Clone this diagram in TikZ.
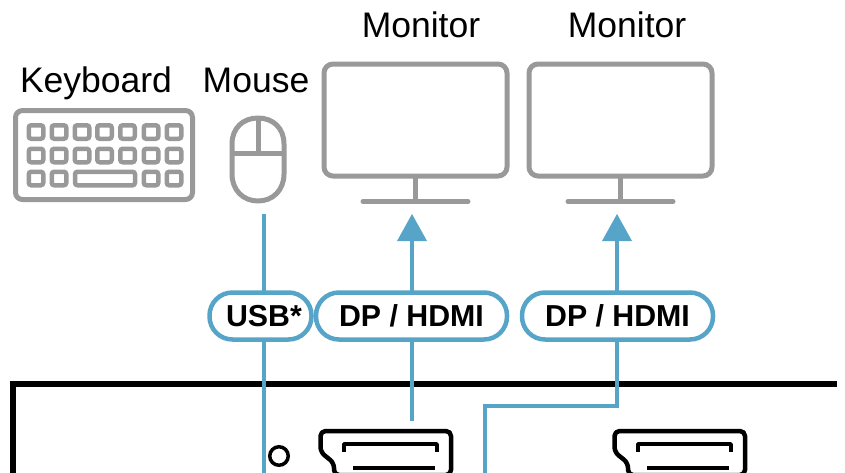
\documentclass[tikz,border=0pt]{standalone}
\usepackage{fontspec}
\setmainfont{Liberation Sans}
\definecolor{cablec}{HTML}{56A5C8}
\definecolor{devc}{HTML}{999999}
\tikzset{
  x=1pt,y=-1pt,
  device/.style={draw=devc,line width=5pt,line join=round,line cap=round},
  keycap/.style={draw=devc,line width=4.5pt,rounded corners=2.5pt,inner sep=0pt,minimum height=13.5pt},
  monitorbox/.style={device,rounded corners=9pt,fill=white,inner sep=0pt,outer sep=0pt,minimum width=183pt,minimum height=112pt},
  cable/.style={draw=cablec,line width=4.5pt},
  pill/.style={draw=cablec,line width=4.5pt,fill=white,rounded corners=23pt,inner sep=0pt,minimum height=47pt,font=\fontsize{30.3}{32}\selectfont\bfseries},
  devlabel/.style={font=\fontsize{35.5}{37}\selectfont,inner sep=0pt,text=black},
  portline/.style={draw=black,line width=3.5pt,line join=round,line cap=butt},
  arrowhead/.style={fill=cablec,draw=none},
}
\newcommand{\portshape}[1]{%
  \begin{scope}[xshift=#1pt]
    \draw[draw=black,line width=4.5pt,line join=round,rounded corners=5pt]
      (334,475) -- (334,463) -- (320.5,452) -- (320.5,431) -- (451,431) -- (451,475) -- cycle;
    \draw[portline] (344,452) -- (344,444) -- (437,444) -- (437,452);
    \draw[portline] (353,468) -- (435,468);
  \end{scope}}
\begin{document}
\begin{tikzpicture}
\useasboundingbox (0,0) rectangle (845,472);
\clip (0,0) rectangle (845,472);
% host box
\draw[black,line width=6.5pt,line join=miter] (13,480) -- (13,384) -- (837,384);
% keyboard
\node[device,rounded corners=7pt,inner sep=0pt,minimum width=177pt,minimum height=89pt] (kbd) at (104,155) {};
\foreach \x in {36,59,82,104.5,127.5,151,174}{
  \node[keycap,minimum width=14.5pt] (k1\x) at (\x,132) {};
  \node[keycap,minimum width=14.5pt] (k2\x) at (\x,155.5) {};
}
\foreach \x in {36,59,151,174}{
  \node[keycap,minimum width=14.5pt] (k3\x) at (\x,178.5) {};
}
\node[keycap,minimum width=60pt] (space) at (105,178.5) {};
% mouse
\draw[device] (232,144) .. controls (232,128) and (243,118) .. (258,118)
  .. controls (273,118) and (284,128) .. (284,144) -- (284,174)
  .. controls (284,190) and (273,201) .. (258,201)
  .. controls (243,201) and (232,190) .. (232,174) -- cycle;
\draw[device,line cap=butt] (232,153) -- (284,153);
\draw[device,line cap=butt] (258,118) -- (258,153);
% monitors
\node[monitorbox] (mon1) at (415.5,120) {};
\node[monitorbox] (mon2) at (620.5,120) {};
\coordinate (base1) at (415.5,201);
\coordinate (base2) at (620.5,201);
\draw[device,line cap=butt] (mon1.south) -- (base1);
\draw[device,line cap=butt] (mon2.south) -- (base2);
\draw[device] (363,201.5) -- (468,201.5);
\draw[device] (568,201.5) -- (673,201.5);
% labels
\node[devlabel,anchor=base] (lk) at (96,92) {Keyboard};
\node[devlabel,anchor=base] (lm) at (256,92) {Mouse};
\node[devlabel,anchor=base] (lm1) at (421,37) {Monitor};
\node[devlabel,anchor=base] (lm2) at (627,37) {Monitor};
% ports
\portshape{0}
\portshape{294}
\node[draw=black,line width=3.5pt,circle,inner sep=0pt,minimum size=18.5pt] (led) at (279,456) {};
% cables
\coordinate (mouseend) at (264,214);
\coordinate (usbend) at (264,480);
\coordinate (tip1) at (412,214);
\coordinate (tip2) at (617,214);
\coordinate (p1) at (412,421);
\coordinate (c1) at (617,406);
\coordinate (c2) at (485,406);
\coordinate (c3) at (485,480);
\draw[cable] (mouseend) -- (usbend);
\draw[cable] (p1) -- (412,238);
\draw[cable,line join=miter] (c3) -- (c2) -- (c1) -- (617,238);
\fill[arrowhead] (tip1) -- (427,241) -- (397,241) -- cycle;
\fill[arrowhead] (tip2) -- (632,241) -- (602,241) -- cycle;
% pills
\node[pill,minimum width=102pt] (usb) at (260.5,316) {\hspace*{7pt}USB*};
\node[pill,minimum width=191pt] (dp1) at (411.5,316) {DP / HDMI};
\node[pill,minimum width=191pt] (dp2) at (617.5,316) {DP / HDMI};
\end{tikzpicture}
\end{document}
